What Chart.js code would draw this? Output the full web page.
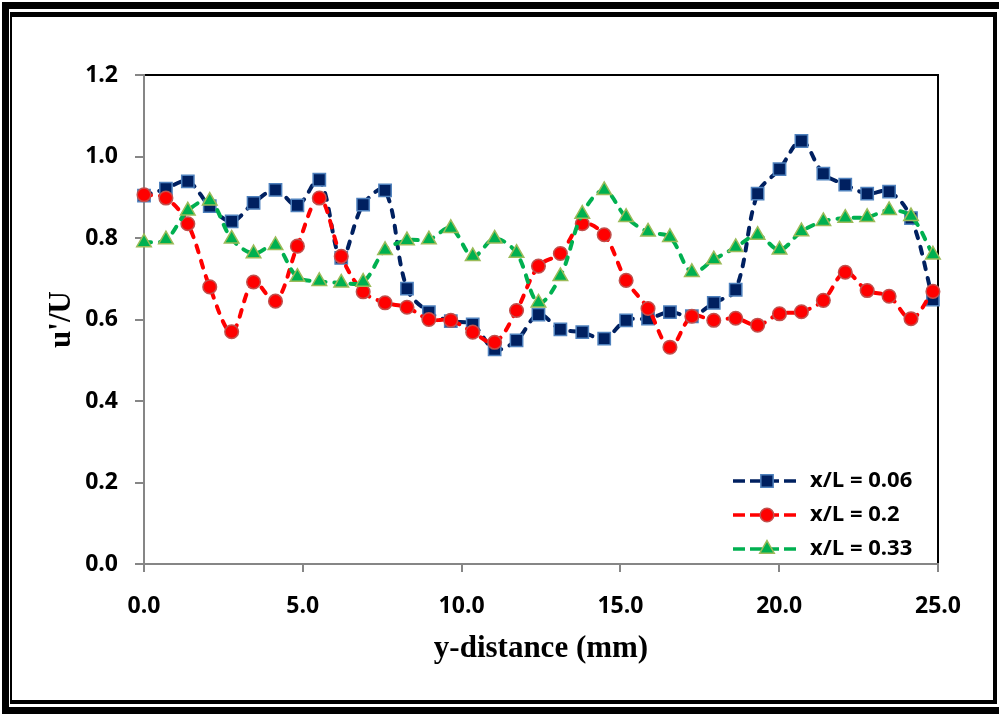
<!DOCTYPE html>
<html>
<head>
<meta charset="utf-8">
<script src="https://cdn.jsdelivr.net/npm/chart.js@4.4.1/dist/chart.umd.min.js"></script>
<style>
  html, body { margin:0; padding:0; background:#fff; overflow:hidden; }
  #wrap { position:relative; width:999px; height:714px; }
  #outer { position:absolute; left:2px; top:2px; width:1010px; height:698px; border:7px solid #000; border-right-width:0; box-sizing:content-box; }
  #inner { position:absolute; left:10px; top:12px; width:981px; height:683px; border-style:solid; border-color:#000; border-width:5px 4px 4px 2px; }
  #c { position:absolute; left:0; top:0; }
</style>
</head>
<body>
<div id="wrap">
  <div id="outer"></div>
  <div id="inner"></div>
  <canvas id="c" width="999" height="714"></canvas>
</div>
<script>
// ---- data ----
const xValues = [0, 0.69, 1.38, 2.07, 2.76, 3.45, 4.14, 4.83, 5.52, 6.21, 6.9, 7.59, 8.28, 8.97, 9.66, 10.35, 11.04, 11.73, 12.42, 13.11, 13.8, 14.49, 15.18, 15.87, 16.56, 17.25, 17.94, 18.63, 19.32, 20.01, 20.7, 21.39, 22.08, 22.77, 23.46, 24.15, 24.84];
const seriesLabels = ['x/L = 0.06', 'x/L = 0.2', 'x/L = 0.33'];
const series006 = [0.904, 0.921, 0.939, 0.878, 0.841, 0.886, 0.918, 0.880, 0.943, 0.751, 0.882, 0.917, 0.676, 0.618, 0.596, 0.588, 0.527, 0.549, 0.612, 0.576, 0.569, 0.553, 0.598, 0.602, 0.618, 0.608, 0.641, 0.673, 0.909, 0.969, 1.038, 0.958, 0.931, 0.909, 0.914, 0.849, 0.649];
const series02 = [0.906, 0.898, 0.835, 0.680, 0.570, 0.692, 0.645, 0.780, 0.898, 0.755, 0.668, 0.641, 0.630, 0.600, 0.598, 0.569, 0.544, 0.622, 0.731, 0.762, 0.835, 0.808, 0.696, 0.627, 0.532, 0.608, 0.598, 0.603, 0.586, 0.614, 0.619, 0.647, 0.716, 0.671, 0.657, 0.602, 0.669];
const series033 = [0.789, 0.796, 0.867, 0.891, 0.798, 0.762, 0.782, 0.704, 0.694, 0.690, 0.692, 0.770, 0.794, 0.796, 0.824, 0.755, 0.798, 0.763, 0.641, 0.706, 0.859, 0.917, 0.851, 0.815, 0.802, 0.716, 0.747, 0.777, 0.807, 0.771, 0.816, 0.841, 0.849, 0.851, 0.868, 0.853, 0.759];
const xTitle = 'y-distance (mm)';
const yTitle = "u'/U";

// ---- styles ----
const styles = [
  { line:'#002060', fill:'#002060', border:'#4F81BD', pointStyle:'rect', radius:8.7 },
  { line:'#FF0000', fill:'#FF0000', border:'#C0504D', pointStyle:'circle', radius:6.8 },
  { line:'#00B050', fill:'#00B050', border:'#9BBB59', pointStyle:'triangle', radius:8.4 }
];
const allSeries = [series006, series02, series033];
const tickFont = { family:'"Open Sans", "Liberation Sans", sans-serif', size:23, weight:'bold' };
const titleFont = { family:'"Liberation Serif", "Times New Roman", serif', size:31, weight:'bold' };
const axisGray = '#868686';

function makeIcon(st) {
  const c = document.createElement('canvas');
  c.width = 66; c.height = 22;
  const g = c.getContext('2d');
  g.strokeStyle = st.line; g.lineWidth = 3.5; g.setLineDash([12, 5]);
  g.beginPath(); g.moveTo(0, 11); g.lineTo(66, 11); g.stroke();
  g.setLineDash([]);
  g.fillStyle = st.fill; g.strokeStyle = st.border; g.lineWidth = 1.5;
  Chart.helpers.drawPoint(g, { pointStyle: st.pointStyle, radius: st.radius, rotation: 0, borderWidth: 1.5 }, 34, 11);
  return c;
}

const datasets = allSeries.map((vals, k) => ({
  label: seriesLabels[k],
  data: xValues.map((x, i) => ({ x: x, y: vals[i] })),
  borderColor: styles[k].line,
  borderWidth: 4,
  borderDash: [7, 9],
  borderCapStyle: 'round',
  tension: 0.35,
  pointStyle: styles[k].pointStyle,
  pointRadius: styles[k].radius,
  pointBackgroundColor: styles[k].fill,
  pointBorderColor: styles[k].border,
  pointBorderWidth: 1.5,
  order: 3 - k,
  clip: false,
  fill: false
}));

const framePlugin = {
  id: 'frame',
  beforeDraw(chart) {
    const a = chart.chartArea, ctx = chart.ctx;
    ctx.save();
    ctx.strokeStyle = '#000'; ctx.lineWidth = 2;
    ctx.strokeRect(a.left, a.top, a.right - a.left, a.bottom - a.top);
    ctx.restore();
    const lg = chart.legend;
    if (lg) {
      const w = lg.width, h = lg.height;
      lg.left = 721; lg.top = 458; lg.right = 721 + w; lg.bottom = 458 + h;
    }
  }
};

new Chart(document.getElementById('c'), {
  type: 'line',
  data: { datasets: datasets },
  options: {
    responsive: false,
    animation: false,
    events: [],
    layout: { padding: { top: 75, right: 61, bottom: 0, left: 0 } },
    plugins: {
      tooltip: { enabled: false },
      legend: {
        position: 'chartArea',
        align: 'start',
        labels: {
          usePointStyle: true,
          pointStyleWidth: 66,
          boxHeight: 22,
          padding: 12,
          color: '#000',
          font: { family: tickFont.family, size: 22, weight: 'bold', lineHeight: 1 },
          sort: (a, b) => a.datasetIndex - b.datasetIndex,
          generateLabels: (chart) => chart.data.datasets.map((ds, i) => ({
            text: ds.label,
            datasetIndex: i,
            pointStyle: makeIcon(styles[i]),
            fillStyle: styles[i].fill,
            strokeStyle: styles[i].border,
            lineWidth: 0,
            hidden: false,
            fontColor: '#000'
          }))
        }
      }
    },
    scales: {
      x: {
        type: 'linear', min: 0, max: 25,
        ticks: { stepSize: 5, callback: v => Number(v).toFixed(1), font: tickFont, color: '#000', padding: 21, maxRotation: 0 },
        grid: { drawOnChartArea: false, drawTicks: true, tickLength: 8, color: axisGray, lineWidth: 2 },
        border: { color: axisGray, width: 2 },
        title: { display: true, text: xTitle, font: titleFont, color: '#000', padding: { top: 0, bottom: 46 } },
        afterFit(s) { s.height = 150; }
      },
      y: {
        type: 'linear', min: 0, max: 1.2,
        ticks: { stepSize: 0.2, callback: v => Number(v).toFixed(1), font: tickFont, color: '#000', padding: 17 },
        grid: { drawOnChartArea: false, drawTicks: true, tickLength: 9, color: axisGray, lineWidth: 2 },
        border: { color: axisGray, width: 2 },
        title: { display: true, text: yTitle, font: titleFont, color: '#000', padding: { top: 43, bottom: 0 } },
        afterFit(s) { s.width = 144; }
      }
    }
  },
  plugins: [framePlugin]
});
</script>
</body>
</html>
